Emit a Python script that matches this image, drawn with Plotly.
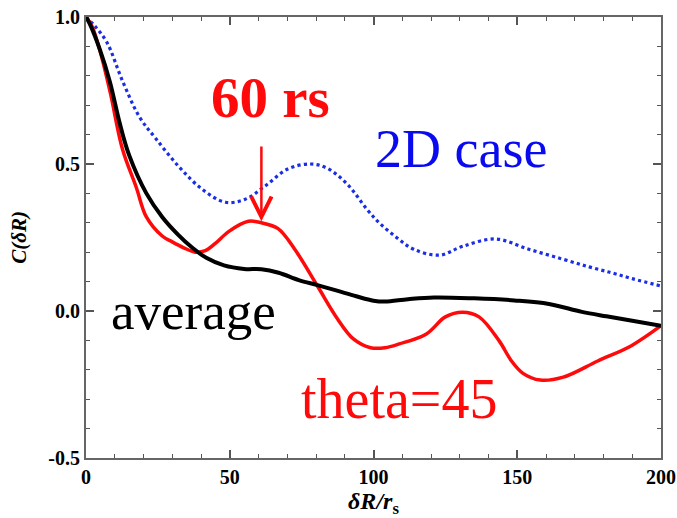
import plotly.graph_objects as go

# --- data ---
avg_x = [0, 1.4, 4.8, 8.3, 11.7, 15, 21, 26.5, 32, 37, 42, 48, 55, 61, 67, 74, 80.5, 87, 94, 100, 104, 112, 121, 135, 149, 161, 172.5, 181, 190, 200]
avg_y = [1.0, 0.975, 0.89, 0.78, 0.64, 0.53, 0.40, 0.32, 0.26, 0.215, 0.18, 0.155, 0.143, 0.142, 0.13, 0.105, 0.088, 0.07, 0.05, 0.035, 0.032, 0.04, 0.046, 0.043, 0.036, 0.024, -0.003, -0.018, -0.033, -0.05]

theta_x = [0, 2, 5, 8.5, 12.7, 17.5, 21, 26.5, 30, 34, 38, 41.5, 45, 49.6, 56.5, 61, 66.8, 72.6, 80.5, 87.5, 93, 99, 104, 109, 118.4, 125, 131, 136.7, 143.6, 148, 152, 158, 166, 178, 189.7, 200]
theta_y = [1.0, 0.97, 0.88, 0.74, 0.55, 0.42, 0.32, 0.255, 0.235, 0.215, 0.2, 0.205, 0.23, 0.27, 0.305, 0.3, 0.28, 0.21, 0.085, -0.027, -0.095, -0.125, -0.125, -0.112, -0.078, -0.02, -0.004, -0.02, -0.10, -0.17, -0.212, -0.235, -0.225, -0.17, -0.118, -0.05]

twod_x = [0, 3, 7.2, 12.8, 18.6, 24.4, 32.4, 40.3, 48.5, 55.4, 62.3, 70.2, 78.1, 84, 91, 97.8, 102, 108, 114, 123, 131, 142.5, 154, 165.6, 175, 182.8, 190, 200]
twod_y = [1.0, 0.97, 0.915, 0.78, 0.66, 0.585, 0.49, 0.415, 0.37, 0.38, 0.425, 0.483, 0.50, 0.485, 0.43, 0.345, 0.30, 0.25, 0.21, 0.19, 0.22, 0.245, 0.21, 0.177, 0.15, 0.13, 0.11, 0.085]

x_ticks = [0, 50, 100, 150, 200]
x_tick_text = ["0", "50", "100", "150", "200"]
y_ticks = [-0.5, 0.0, 0.5, 1.0]
y_tick_text = ["-0.5", "0.0", "0.5", "1.0"]

SERIF = "Liberation Serif, Times New Roman, serif"

fig = go.Figure()
fig.add_trace(go.Scatter(x=twod_x, y=twod_y, mode="lines", line=dict(color="#1a2ee6", width=3.2, dash="dot", shape="spline", smoothing=1.0), showlegend=False))
fig.add_trace(go.Scatter(x=theta_x, y=theta_y, mode="lines", line=dict(color="#ff0a0a", width=3.5, shape="spline", smoothing=1.0), showlegend=False))
fig.add_trace(go.Scatter(x=avg_x, y=avg_y, mode="lines", line=dict(color="black", width=4, shape="spline", smoothing=1.0), showlegend=False))

axis_common = dict(
    showgrid=False, zeroline=False, showline=True, linecolor="#666", linewidth=2, mirror="allticks",
    ticks="inside", ticklen=8, tickwidth=1.5, tickcolor="#555", ticklabeloverflow="allow", automargin=False,
    tickfont=dict(family=SERIF, size=20, color="black", weight="bold"),
)
fig.update_xaxes(range=[0, 200], tickvals=x_ticks, ticktext=x_tick_text,
                 minor=dict(dtick=10, ticks="inside", ticklen=4, tickcolor="#555", tickwidth=1.2),
                 title=dict(text="<b><i>δR/r</i><sub>s</sub></b>", font=dict(family=SERIF, size=24, color="black"), standoff=3),
                 **axis_common)
fig.update_yaxes(range=[-0.5, 1.0], tickvals=y_ticks, ticktext=y_tick_text,
                 minor=dict(dtick=0.1, ticks="inside", ticklen=4, tickcolor="#555", tickwidth=1.2),
                 title=dict(text="<b><i>C(δR)</i></b>", font=dict(family=SERIF, size=21, color="black"), standoff=16),
                 **axis_common)

fig.add_annotation(x=64, y=0.725, xref="x", yref="y", text="<b>60 rs</b>", showarrow=False,
                   font=dict(family=SERIF, size=57, color="#ff0a0a"))
fig.add_annotation(x=61, y=0.305, ax=61, ay=0.565, xref="x", yref="y", axref="x", ayref="y",
                   text="", showarrow=True, arrowhead=5, arrowsize=1.6, arrowwidth=2.5, arrowcolor="#ff0a0a")
fig.add_annotation(x=130.3, y=0.55, xref="x", yref="y", text="2D case", showarrow=False,
                   font=dict(family=SERIF, size=54, color="#0a0af0"))
fig.add_annotation(x=37.3, y=-0.0, xref="x", yref="y", text="average", showarrow=False,
                   font=dict(family=SERIF, size=53, color="black"))
fig.add_annotation(x=109, y=-0.3, xref="x", yref="y", text="theta=45", showarrow=False,
                   font=dict(family=SERIF, size=56, color="#ff0a0a"))

fig.update_layout(width=677, height=518, margin=dict(l=86, r=16, t=17, b=60, autoexpand=False),
                  plot_bgcolor="white", paper_bgcolor="white")

fig.write_html("out.html")
